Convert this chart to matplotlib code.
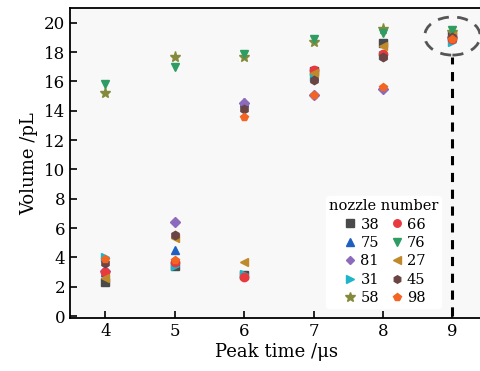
import matplotlib
matplotlib.use("Agg")
import matplotlib.pyplot as plt
from matplotlib.patches import Ellipse

peak_times = [4, 5, 6, 7, 8, 9]

nozzle_38 = [2.3, 3.4, 2.8, 16.7, 18.6, 19.2]
nozzle_66 = [3.0, 3.7, 2.7, 16.8, 17.9, 18.9]
nozzle_75 = [3.0, 4.5, 14.6, 16.4, 17.9, 19.0]
nozzle_76 = [15.8, 17.0, 17.9, 18.9, 19.3, 19.5]
nozzle_81 = [3.1, 6.4, 14.5, 15.1, 15.5, 19.0]
nozzle_27 = [2.6, 5.3, 3.7, 16.6, 18.4, 19.1]
nozzle_31 = [4.0, 3.4, 2.9, 16.3, 17.8, 18.7]
nozzle_45 = [3.6, 5.5, 14.1, 16.1, 17.7, 19.0]
nozzle_58 = [15.2, 17.7, 17.7, 18.7, 19.6, 19.4]
nozzle_98 = [3.9, 3.8, 13.6, 15.1, 15.6, 18.9]

series = [
    ("38", nozzle_38, "s", "#4a4a4a"),
    ("75", nozzle_75, "^", "#1f5fbf"),
    ("81", nozzle_81, "D", "#8c6bbd"),
    ("31", nozzle_31, ">", "#1fb5c8"),
    ("58", nozzle_58, "*", "#858a3a"),
    ("66", nozzle_66, "o", "#e83a3e"),
    ("76", nozzle_76, "v", "#2e9c63"),
    ("27", nozzle_27, "<", "#c08a2a"),
    ("45", nozzle_45, "h", "#6b4444"),
    ("98", nozzle_98, "p", "#f26522"),
]

plt.rcParams['font.family'] = ['DejaVu Serif']

fig = plt.figure(figsize=(4.81, 3.71), dpi=100)
ax = fig.add_axes([0.1455, 0.142, 0.86, 0.836])
ax.set_facecolor("#f8f8f8")

for name, vals, mk, col in series:
    size = 6
    if mk == "*":
        size = 8
    elif mk == "D":
        size = 5
    ax.plot(peak_times, vals, linestyle="none", marker=mk, color=col,
            markersize=size, label=name)

ax.plot([9, 9], [0, 17.7], linestyle=(0, (3, 2.5)), color="black", linewidth=2.2)
ax.add_patch(Ellipse((9.0, 19.1), 0.8, 2.6, fill=False, edgecolor="#555555",
                     linestyle=(0, (4, 3)), linewidth=2.0))

ax.set_xlim(3.49, 9.45)
ax.set_ylim(-0.15, 21.0)
ax.set_xticks(peak_times)
ax.set_yticks(range(0, 21, 2))
ax.tick_params(direction="in", labelsize=12, length=5, width=1.2)
ax.spines["right"].set_visible(False)
for s in ["left", "bottom", "top"]:
    ax.spines[s].set_linewidth(1.3)

ax.set_xlabel("Peak time /μs", fontsize=13, labelpad=2)
ax.set_ylabel("Volume /pL", fontsize=13, labelpad=4)

leg = ax.legend(title="nozzle number", ncol=2, loc="lower right",
                bbox_to_anchor=(0.915, 0.01), frameon=True, fontsize=10.5,
                title_fontsize=10.5, handletextpad=0.1, columnspacing=0.6,
                labelspacing=0.3, handlelength=1.2, borderpad=0.2,
                markerscale=0.9)
leg.get_frame().set_facecolor("white")
leg.get_frame().set_edgecolor("white")
leg.get_frame().set_alpha(1)

fig.savefig("out.png", dpi=100)
